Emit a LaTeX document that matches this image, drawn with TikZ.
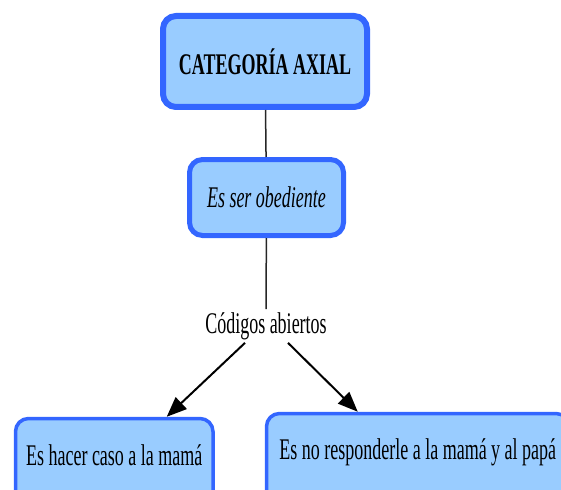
\documentclass[tikz,border=0pt]{standalone}
\usepackage{fontspec}
\setmainfont{Liberation Serif}[FakeStretch=0.6]
\usepackage{xcolor}
\usepackage{tikz}
\usetikzlibrary{calc,arrows.meta}
\definecolor{conceptfill}{HTML}{99CCFF}
\definecolor{conceptline}{HTML}{3366FF}

\begin{document}
\begin{tikzpicture}[x=1pt, y=-1pt,
    concept/.style={draw=conceptline, fill=conceptfill, rounded corners=13pt,
                    align=center, font=\fontsize{30}{36}\selectfont},
    leaf/.style={concept, line width=3.5pt, anchor=north west,
                 text height=20pt, text depth=40pt, inner xsep=0pt},
    link/.style={draw=black!85, line width=1.5pt},
    arrowlink/.style={draw=black, line width=2pt,
                      -{Triangle[width=16pt, length=20pt]}}]
  \useasboundingbox (0,0) rectangle (561,489);
  \clip (0,0) rectangle (561,489);
  \node[concept, line width=6pt, minimum width=204pt, minimum height=91pt]
      (categoria) at (265,61.5) {\textbf{CATEGORÍA AXIAL}};
  \node[concept, line width=5pt, minimum width=154pt, minimum height=76pt]
      (obediente) at (266.5,197.5) {\textit{Es ser obediente}};
  \node[font=\fontsize{30}{36}\selectfont, inner sep=3pt]
      (codigos) at (266,326) {Códigos abiertos};
  \node[leaf, minimum width=197.5pt, inner ysep=27pt]
      (hacercaso) at (13.75,416.75) {Es hacer caso a la mamá};
  \node[leaf, minimum width=302.5pt, inner ysep=26pt]
      (noresponder) at (264.75,411.75) {Es no responderle a la mamá y al papá};
  % links
  \draw[link] (categoria) -- (obediente);
  \draw[link] (obediente) -- (codigos);
  \draw[arrowlink] ($(codigos.south)+(-21,0)$) -- ($(hacercaso.north west)+(153,0)$);
  \draw[arrowlink] ($(codigos.south)+(22,0)$) -- ($(noresponder.north west)+(93,0)$);
\end{tikzpicture}
\end{document}
